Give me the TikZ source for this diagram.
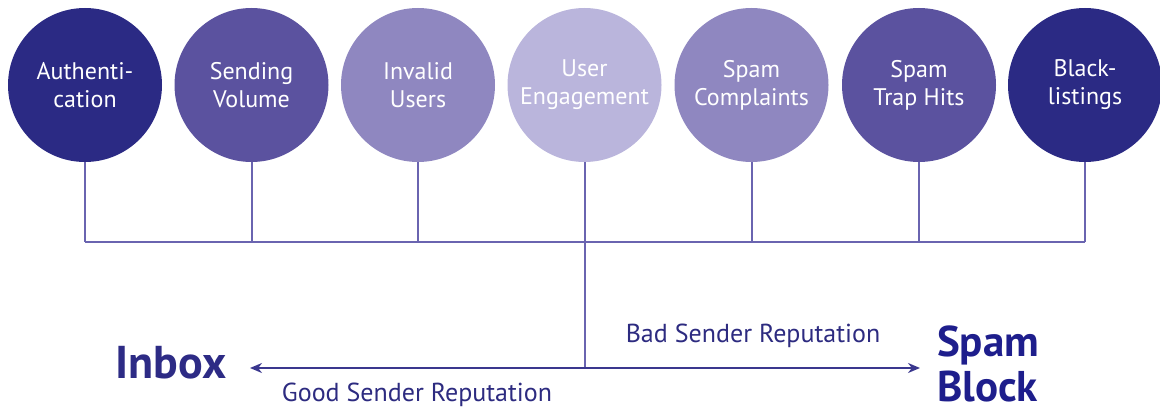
\documentclass[tikz,border=0pt]{standalone}
\usepackage{fontspec}
\setmainfont{PT Sans}
\usetikzlibrary{arrows.meta}
\definecolor{cA}{HTML}{2B2A84}
\definecolor{cB}{HTML}{5B529F}
\definecolor{cC}{HTML}{8F87C0}
\definecolor{cD}{HTML}{BAB5DC}
\definecolor{linec}{HTML}{6A64B0}
\definecolor{arrc}{HTML}{3A378E}
\definecolor{inboxc}{HTML}{2D2B85}
\definecolor{spamc}{HTML}{1E1E8C}
\definecolor{labc}{HTML}{2D2B80}
\tikzset{
  factor/.style={circle, minimum size=154pt, inner sep=0pt, align=center, text=white,
    font=\fontsize{24}{28}\selectfont},
  busline/.style={draw=linec, line width=2pt},
  arr/.style={draw=arrc, line width=2.2pt, -{Stealth[length=12pt,width=10pt]}},
  big/.style={font=\fontsize{46}{50}\selectfont\bfseries},
  lab/.style={text=labc, font=\fontsize{26}{30}\selectfont}
}
\begin{document}
\begin{tikzpicture}[x=1pt,y=-1pt]
\useasboundingbox (0,0) rectangle (1160,412);
\node[factor, fill=cA] (c1) at (85,85) {Authenti-\\cation};
\node[factor, fill=cB] (c2) at (251.5,85) {Sending\\Volume};
\node[factor, fill=cC] (c3) at (418,85) {Invalid\\Users};
\node[factor, fill=cD] (c4) at (584.5,85) {User\\Engagement};
\node[factor, fill=cC] (c5) at (751.5,85) {Spam\\Complaints};
\node[factor, fill=cB] (c6) at (919,85) {Spam\\Trap Hits};
\node[factor, fill=cA] (c7) at (1085,85) {Black-\\listings};
\coordinate (busy) at (0,242);
\coordinate (hub) at (584.5,368);
\coordinate (lt) at (250,368);
\coordinate (rt) at (920,368);
\foreach \i in {1,...,7} {\draw[busline] (c\i.south) -- (c\i.south |- busy);}
\draw[busline] (c1.south |- busy) -- (c7.south |- busy);
\draw[busline] (c4.south |- busy) -- (hub);
\draw[arr] (hub) -- (lt);
\draw[arr] (hub) -- (rt);
\node[big, text=inboxc] (inbox) at (171,363) {Inbox};
\node[big, text=spamc, align=left, anchor=west, inner sep=0pt, font=\fontsize{43}{45}\selectfont\bfseries] (spam) at (937,364) {Spam\\Block};
\node[lab] (bad) at (753,336) {Bad Sender Reputation};
\node[lab] (good) at (417,395) {Good Sender Reputation};
\end{tikzpicture}
\end{document}
